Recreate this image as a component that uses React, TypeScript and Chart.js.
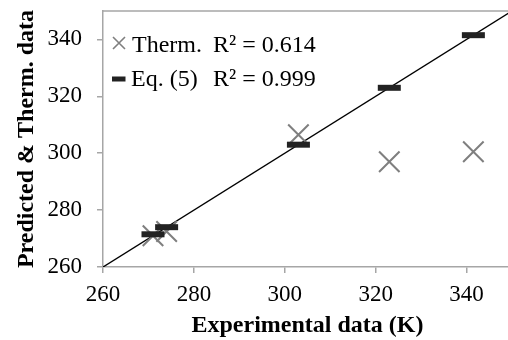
import React, { useEffect, useRef } from "react";
import { Chart, registerables } from "chart.js";

Chart.register(...registerables);

// ---- data ----
const experimental = [271, 274, 303, 323, 341.5];
const thermValues = [271, 272.5, 306.5, 297, 300.5];
const eq5Values = [271.5, 274, 303, 323, 341.5];
const seriesNames = ["Therm.", "Eq. (5)"];
const r2Values = ["0.614", "0.999"];
const axisMin = 260;
const axisMax = 350;
const tickStep = 20;
const xTitle = "Experimental data (K)";
const yTitle = "Predicted & Therm. data";

const SERIF = '"Liberation Serif", "Times New Roman", serif';
const GRAY = "#a6a6a6";
const XGRAY = "#7f7f7f";
const DASH = "#222222";

const frameLegendPlugin = {
  id: "frameLegend",
  afterDraw(chart: any) {
    const { ctx, chartArea } = chart;
    ctx.save();
    ctx.strokeStyle = GRAY;
    ctx.lineWidth = 1.5;
    ctx.beginPath();
    ctx.moveTo(chartArea.left, chartArea.top);
    ctx.lineTo(chartArea.right, chartArea.top);
    ctx.lineTo(chartArea.right, chartArea.bottom);
    ctx.stroke();

    // legend
    const x0 = chartArea.left;
    const y0 = chartArea.top;
    ctx.font = `24px ${SERIF}`;
    ctx.fillStyle = "#000";
    ctx.textBaseline = "alphabetic";
    ctx.textAlign = "left";
    // row 1: X marker
    ctx.strokeStyle = XGRAY;
    ctx.lineWidth = 1.6;
    const cx = x0 + 16, cy = y0 + 32;
    const h = 6;
    ctx.beginPath();
    ctx.moveTo(cx - h, cy - h);
    ctx.lineTo(cx + h, cy + h);
    ctx.moveTo(cx + h, cy - h);
    ctx.lineTo(cx - h, cy + h);
    ctx.stroke();
    ctx.fillText(seriesNames[0], x0 + 29, y0 + 41);
    ctx.fillText("R² = " + r2Values[0], x0 + 110, y0 + 41);
    // row 2: dash marker
    ctx.fillStyle = DASH;
    ctx.fillRect(x0 + 9, y0 + 65.5, 13.5, 5);
    ctx.fillStyle = "#000";
    ctx.fillText(seriesNames[1], x0 + 28, y0 + 75);
    ctx.fillText("R² = " + r2Values[1], x0 + 110, y0 + 75);
    ctx.restore();
  },
};

function zeroPad(scale: any) {
  scale.paddingTop = 0;
  scale.paddingBottom = 0;
  scale.paddingLeft = 0;
  scale.paddingRight = 0;
}

export default function App() {
  const ref = useRef<HTMLCanvasElement | null>(null);

  useEffect(() => {
    if (!ref.current) return;
    const thermData = experimental.map((x, i) => ({ x, y: thermValues[i] }));
    const eqData = experimental.map((x, i) => ({ x, y: eq5Values[i] }));
    const tickFont = { family: SERIF, size: 23, weight: "normal" };
    const chart = new Chart(ref.current, {
      type: "scatter",
      data: {
        datasets: [
          {
            label: seriesNames[1],
            data: eqData,
            pointStyle: "line",
            pointRadius: 11.5,
            pointHoverRadius: 11.5,
            borderColor: DASH,
            backgroundColor: DASH,
            borderWidth: 6,
            pointBorderWidth: 6,
            order: 0,
          } as any,
          {
            label: seriesNames[0],
            data: thermData,
            pointStyle: "crossRot",
            pointRadius: 14.5,
            pointHoverRadius: 14.5,
            borderColor: XGRAY,
            backgroundColor: XGRAY,
            borderWidth: 2,
            pointBorderWidth: 2,
            order: 1,
          } as any,
          {
            label: "y = x",
            data: [
              { x: axisMin, y: axisMin },
              { x: axisMax, y: axisMax },
            ],
            showLine: true,
            pointRadius: 0,
            borderColor: "#000",
            borderWidth: 1.4,
            order: 2,
          } as any,
        ],
      },
      options: {
        animation: false,
        responsive: false,
        maintainAspectRatio: false,
        devicePixelRatio: 1,
        font: { family: SERIF },
        layout: {
          autoPadding: false,
          padding: { left: 0, top: 11, right: 4, bottom: 0 },
        },
        plugins: {
          legend: { display: false },
          tooltip: { enabled: false },
        },
        scales: {
          x: {
            type: "linear",
            min: axisMin,
            max: axisMax,
            afterFit(scale: any) {
              scale.height = 73;
              zeroPad(scale);
            },
            ticks: {
              stepSize: tickStep,
              includeBounds: false,
              color: "#000",
              font: tickFont,
              padding: 8,
              maxRotation: 0,
            },
            grid: {
              drawOnChartArea: false,
              drawTicks: true,
              tickLength: 6,
              color: GRAY,
              lineWidth: 1.5,
            },
            border: { color: GRAY, width: 1.5 },
            title: {
              display: true,
              text: xTitle,
              color: "#000",
              font: { family: SERIF, size: 24, weight: "bold" },
              padding: { top: 0, bottom: 0 },
            },
          },
          y: {
            type: "linear",
            min: axisMin,
            max: axisMax,
            afterFit(scale: any) {
              scale.width = 103;
              zeroPad(scale);
            },
            ticks: {
              stepSize: tickStep,
              includeBounds: false,
              color: "#000",
              font: tickFont,
              padding: 15,
            },
            grid: {
              drawOnChartArea: false,
              drawTicks: true,
              tickLength: 6,
              color: GRAY,
              lineWidth: 1.5,
            },
            border: { color: GRAY, width: 1.5 },
            title: {
              display: true,
              text: yTitle,
              color: "#000",
              font: { family: SERIF, size: 24, weight: "bold" },
              padding: { top: 12, bottom: 0 },
            },
          },
        },
      } as any,
      plugins: [frameLegendPlugin],
    });
    return () => chart.destroy();
  }, []);

  return (
    <div
      style={{
        position: "fixed",
        left: 0,
        top: 0,
        width: 508,
        height: 340,
        overflow: "hidden",
        background: "#fff",
      }}
    >
      <canvas
        ref={ref}
        width={516}
        height={340}
        style={{ display: "block", width: 516, height: 340 }}
      />
    </div>
  );
}
